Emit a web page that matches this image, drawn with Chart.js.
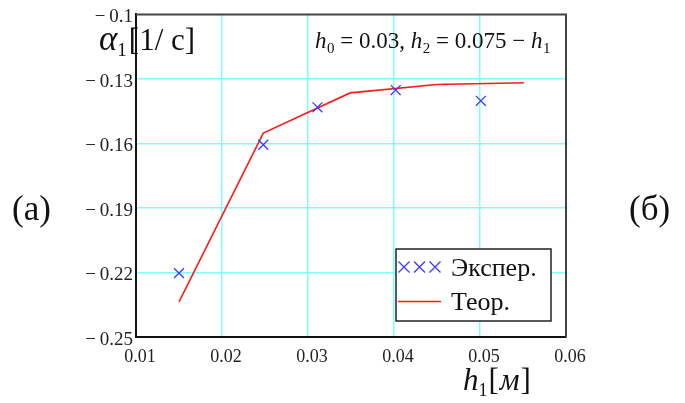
<!DOCTYPE html>
<html>
<head>
<meta charset="utf-8">
<script src="https://cdn.jsdelivr.net/npm/chart.js@4/dist/chart.umd.min.js"></script>
<style>
  html, body { margin: 0; padding: 0; background: #fff; }
  canvas { display: block; }
</style>
</head>
<body>
<canvas id="c" width="685" height="403"></canvas>
<script>
// Measured (experimental) points
const expX = [0.015, 0.0248, 0.0311, 0.0402, 0.0501];
const expY = [-0.2203, -0.1606, -0.1432, -0.1352, -0.1402];
// Theoretical curve
const theoX = [0.015, 0.0248, 0.0349, 0.045, 0.0551];
const theoY = [-0.2337, -0.1552, -0.1365, -0.1326, -0.1318];
// Axis ticks
const xTicks = [0.01, 0.02, 0.03, 0.04, 0.05, 0.06];
const yTicks = [-0.25, -0.22, -0.19, -0.16, -0.13, -0.1];
const seriesNames = ['Экспер.', 'Теор.'];

const SERIF = '"Liberation Serif", "Times New Roman", serif';
const BLUE = '#3b3bff';
const RED = '#ff1a1a';
const CYAN = '#80ffff';

function fmtTick(v) {
  return (v < 0 ? '\u2212\u2009' : '') + String(Math.abs(v));
}

// draws a sequence of text pieces with their own fonts and baseline shifts
function drawRuns(ctx, x, y, runs) {
  ctx.textAlign = 'left';
  ctx.textBaseline = 'alphabetic';
  for (const r of runs) {
    ctx.font = r.font;
    ctx.fillText(r.t, x, y + (r.dy || 0));
    x += ctx.measureText(r.t).width + (r.gap || 0);
  }
  return x;
}

function crossMark(ctx, cx, cy, s) {
  ctx.beginPath();
  ctx.moveTo(cx - s, cy - s); ctx.lineTo(cx + s, cy + s);
  ctx.moveTo(cx + s, cy - s); ctx.lineTo(cx - s, cy + s);
  ctx.stroke();
}

const decorations = {
  id: 'decorations',
  afterDatasetsDraw(chart) {
    const ctx = chart.ctx;
    const a = chart.chartArea;
    ctx.save();

    // top and right frame lines
    ctx.strokeStyle = '#444';
    ctx.lineWidth = 2;
    ctx.beginPath();
    ctx.moveTo(a.left, a.top);
    ctx.lineTo(a.right, a.top);
    ctx.lineTo(a.right, a.bottom);
    ctx.stroke();

    // legend box
    const bx = 396, by = 249, bw = 155, bh = 72;
    ctx.fillStyle = '#fff';
    ctx.fillRect(bx, by, bw, bh);
    ctx.strokeStyle = '#222';
    ctx.lineWidth = 1.5;
    ctx.strokeRect(bx, by, bw, bh);

    ctx.strokeStyle = BLUE;
    ctx.lineWidth = 1.3;
    [404, 419.5, 435].forEach(cx => crossMark(ctx, cx, 267, 5.5));
    ctx.strokeStyle = RED;
    ctx.lineWidth = 1.5;
    ctx.beginPath();
    ctx.moveTo(398, 301.5);
    ctx.lineTo(441, 301.5);
    ctx.stroke();

    ctx.fillStyle = '#111';
    drawRuns(ctx, 451, 276, [{ t: seriesNames[0], font: `26px ${SERIF}` }]);
    drawRuns(ctx, 451, 310, [{ t: seriesNames[1], font: `26px ${SERIF}` }]);

    // parameter note
    const big = `23px ${SERIF}`, bigI = `italic 23px ${SERIF}`, sub = `15px ${SERIF}`;
    drawRuns(ctx, 315, 48, [
      { t: 'h', font: bigI, gap: 0.5 },
      { t: '0', font: sub, dy: 5 },
      { t: ' = 0.03, ', font: big },
      { t: 'h', font: bigI, gap: 0.5 },
      { t: '2', font: sub, dy: 5 },
      { t: ' = 0.075 \u2212 ', font: big },
      { t: 'h', font: bigI, gap: 0.5 },
      { t: '1', font: sub, dy: 5 }
    ]);

    // y-axis title
    drawRuns(ctx, 99, 50, [
      { t: '\u03b1', font: `italic 35px ${SERIF}` },
      { t: '1', font: `19px ${SERIF}`, dy: 6, gap: 2 },
      { t: '[1/ c]', font: `31px ${SERIF}` }
    ]);

    // x-axis title
    drawRuns(ctx, 463, 390, [
      { t: 'h', font: `italic 31px ${SERIF}` },
      { t: '1', font: `18px ${SERIF}`, dy: 6, gap: 1 },
      { t: '[', font: `31px ${SERIF}`, gap: 1 },
      { t: '\u043c', font: `italic 31px ${SERIF}`, gap: 1 },
      { t: ']', font: `31px ${SERIF}` }
    ]);

    // panel marks
    ctx.font = `35px ${SERIF}`;
    ctx.textBaseline = 'middle';
    ctx.textAlign = 'left';
    ctx.fillText('(a)', 12, 211);
    ctx.fillText('(\u0431)', 629, 211);

    ctx.restore();
  }
};

const gridColor = c => {
  const v = c.tick && c.tick.value;
  const s = c.scale;
  return (Math.abs(v - s.min) < 1e-9 || Math.abs(v - s.max) < 1e-9) ? 'rgba(0,0,0,0)' : CYAN;
};

new Chart(document.getElementById('c').getContext('2d'), {
  type: 'scatter',
  data: {
    datasets: [
      {
        label: seriesNames[0],
        data: expX.map((x, i) => ({ x, y: expY[i] })),
        showLine: false,
        pointStyle: 'crossRot',
        pointRadius: 7,
        pointBorderWidth: 1.3,
        borderColor: BLUE,
        backgroundColor: BLUE
      },
      {
        label: seriesNames[1],
        data: theoX.map((x, i) => ({ x, y: theoY[i] })),
        showLine: true,
        tension: 0,
        fill: false,
        pointRadius: 0,
        borderWidth: 1.6,
        borderColor: RED,
        backgroundColor: RED
      }
    ]
  },
  options: {
    responsive: false,
    animation: false,
    devicePixelRatio: 1,
    layout: { padding: { top: 12, right: 119, left: 0, bottom: 0 } },
    plugins: { legend: { display: false }, tooltip: { enabled: false } },
    scales: {
      x: {
        type: 'linear',
        min: 0.01, max: 0.06,
        afterBuildTicks: s => { s.ticks = xTicks.map(v => ({ value: v })); },
        afterFit: s => { s.height = 66; },
        grid: { color: gridColor, lineWidth: 1.5, drawTicks: false },
        border: { display: true, color: '#111', width: 2 },
        ticks: {
          padding: 9, labelOffset: 4, maxRotation: 0, autoSkip: false,
          color: '#222', font: { family: SERIF, size: 18 },
          callback: v => fmtTick(v)
        }
      },
      y: {
        type: 'linear',
        min: -0.25, max: -0.1,
        afterBuildTicks: s => { s.ticks = yTicks.map(v => ({ value: v })); },
        afterFit: s => { s.width = 136; },
        grid: { color: gridColor, lineWidth: 1.5, drawTicks: false },
        border: { display: true, color: '#111', width: 2 },
        ticks: {
          padding: 3, labelOffset: 3, autoSkip: false,
          color: '#222', font: { family: SERIF, size: 19 },
          callback: v => fmtTick(v)
        }
      }
    }
  },
  plugins: [decorations]
});
</script>
</body>
</html>
